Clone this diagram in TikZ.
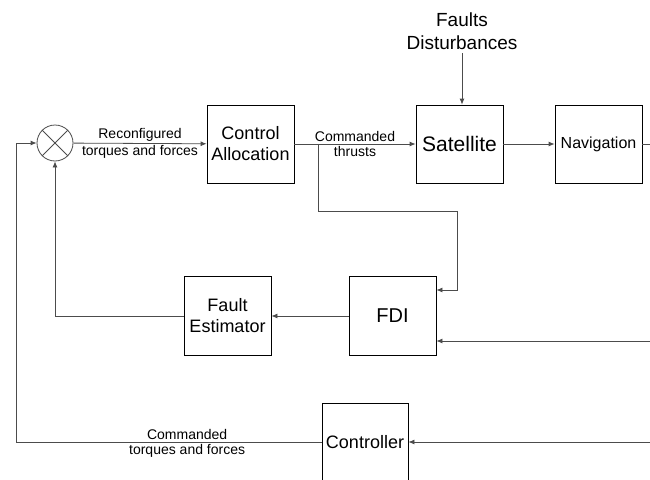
\documentclass[tikz,border=0pt]{standalone}
\usepackage{fontspec}
\setmainfont{Liberation Sans}
\usetikzlibrary{arrows.meta,positioning}

\begin{document}
\begin{tikzpicture}[x=1pt,y=-1pt,line width=0.8pt,>={Latex[length=6pt,width=5pt]},
  block/.style={draw,rectangle,minimum width=87pt,minimum height=78pt,inner sep=1pt,align=center,font=\fontsize{18}{21}\selectfont},
  sumnode/.style={draw=black!70,circle,minimum size=36pt,inner sep=0pt},
  lbl/.style={inner sep=1.5pt,font=\fontsize{14}{16}\selectfont},
  wire/.style={draw=black!70},
  link/.style={wire,->}]
  \useasboundingbox (0,0) rectangle (650,479);
  \clip (0,0) rectangle (650,479);

  % blocks
  \node[sumnode] (sum) at (55,143) {};
  \draw[black!70] (sum.45) -- (sum.225) (sum.135) -- (sum.315);
  \node[block] (alloc) at (250.5,144) {Control\\Allocation};
  \node[block,font=\fontsize{21}{24}\selectfont] (sat) at (459.5,144) {Satellite};
  \node[block,font=\fontsize{16}{19}\selectfont] (nav) at (598.5,144) {Navigation};
  \node[block,minimum height=79pt,font=\fontsize{20}{24}\selectfont] (fdi) at (392.5,316) {FDI};
  \node[block,minimum height=79pt] (est) at (227.5,316) {Fault\\Estimator};
  \node[block,minimum width=86pt] (ctrl) at (365,442) {Controller};
  \node[align=center,font=\fontsize{19}{23}\selectfont] (faults) at (462,31) {Faults\\Disturbances};

  % free ends
  \coordinate (split) at (318,144);
  \coordinate (turn) at (457,211);
  \coordinate (navout) at (650,144);
  \coordinate (fdiin) at (650,341);
  \coordinate (ctrlin) at (650,442);
  \coordinate (fb) at (16,442);

  % forward path
  \draw[link] (sum) -- node[lbl,above]{Reconfigured} node[lbl,below]{torques and forces} (alloc);
  \draw[link] (alloc) -- node[lbl,above]{Commanded} node[lbl,below]{thrusts} (sat);
  \draw[link] (faults.south) -- (faults.south |- sat.north);
  \draw[link] (sat) -- (nav);
  \draw[wire] (nav) -- (navout);

  % fault detection loop
  \draw[link] (split) |- (turn) |- ([yshift=26pt]fdi.east);
  \draw[link] (fdiin) -- (fdiin -| fdi.east);
  \draw[link] (fdi) -- (est);
  \draw[link] (est) -| (sum);

  % controller loop
  \draw[link] (ctrlin) -- (ctrl);
  \draw[link] (ctrl) -- node[lbl,above,pos=0.44]{Commanded} node[lbl,below,pos=0.44]{torques and forces} (fb) |- (sum);
\end{tikzpicture}
\end{document}
